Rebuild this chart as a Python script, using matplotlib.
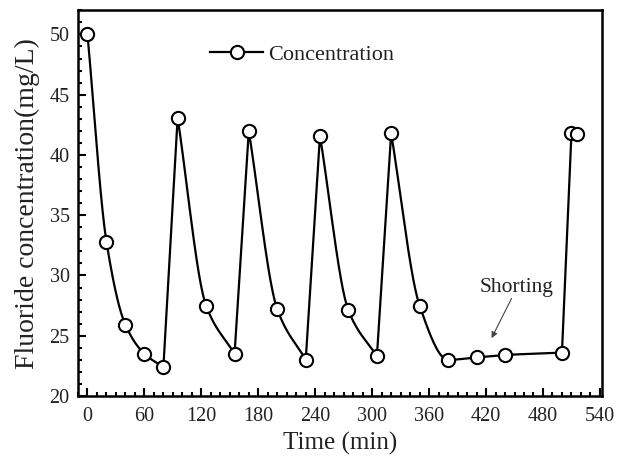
import numpy as np
import matplotlib
matplotlib.use("Agg")
import matplotlib.pyplot as plt
from matplotlib.ticker import MultipleLocator

time_min = [0, 20, 40, 60, 80, 95, 125, 155, 170, 200, 230, 245, 275, 305,
            320, 350, 380, 410, 440, 500, 510, 516]
conc = [50.0, 32.8, 25.9, 23.5, 22.4, 43.1, 27.5, 23.5, 42.0, 27.2, 23.0, 41.6,
        27.1, 23.3, 41.8, 27.5, 23.0, 23.2, 23.4, 23.6, 41.8, 41.7]
x_ticks = [0, 60, 120, 180, 240, 300, 360, 420, 480, 540]
y_ticks = [20, 25, 30, 35, 40, 45, 50]

plt.rcParams['font.family'] = ['Liberation Serif', 'DejaVu Serif']


def pchip(x, y, xs):
    x = np.asarray(x, float); y = np.asarray(y, float)
    h = np.diff(x); d = np.diff(y) / h
    n = len(x)
    m = np.zeros(n)
    for k in range(1, n - 1):
        if d[k - 1] * d[k] > 0:
            w1 = 2 * h[k] + h[k - 1]; w2 = h[k] + 2 * h[k - 1]
            m[k] = (w1 + w2) / (w1 / d[k - 1] + w2 / d[k])
    m[0] = d[0]; m[-1] = d[-1]
    out = np.empty_like(xs)
    for i, xv in enumerate(xs):
        k = min(max(np.searchsorted(x, xv) - 1, 0), n - 2)
        t = (xv - x[k]) / h[k]
        h00 = 2*t**3 - 3*t**2 + 1; h10 = t**3 - 2*t**2 + t
        h01 = -2*t**3 + 3*t**2; h11 = t**3 - t**2
        out[i] = h00*y[k] + h10*h[k]*m[k] + h01*y[k+1] + h11*h[k]*m[k+1]
    return out


fig = plt.figure(figsize=(6.17, 4.63), dpi=100)
ax = fig.add_axes([0.1264, 0.1447, 0.849, 0.833])

# smooth decay segments, straight rises
t = np.array(time_min, float); c = np.array(conc, float)
peaks = [0] + [i for i in range(1, len(c) - 1) if c[i] > c[i-1] and c[i] > c[i+1]]
troughs = [4, 7, 10, 13, 19]
segs_x, segs_y = [], []
for p, tr in zip(peaks, troughs):
    xs = np.linspace(t[p], t[tr], 200)
    ys = pchip(t[p:tr+1], c[p:tr+1], xs) if tr - p > 1 else np.interp(xs, t[p:tr+1], c[p:tr+1])
    segs_x.append(xs); segs_y.append(ys)
    nxt = tr + 1
    if nxt < len(t):
        segs_x.append(np.array([t[tr], t[nxt]])); segs_y.append(np.array([c[tr], c[nxt]]))
segs_x.append(np.array([t[-2], t[-1]])); segs_y.append(np.array([c[-2], c[-1]]))
ax.plot(np.concatenate(segs_x), np.concatenate(segs_y), color='black', lw=1.6, zorder=2)
ax.plot(time_min, conc, linestyle='none', marker='o', ms=9.5, mfc='white',
        mec='black', mew=1.5, zorder=3)
ax.plot([], [], color='black', lw=1.6, marker='o', ms=9.5, mfc='white',
        mec='black', mew=1.5, label='Concentration')
ax.legend(loc='center left', bbox_to_anchor=(0.252, 0.886), frameon=False,
          fontsize=16, handlelength=2.4, handletextpad=0.2, borderpad=0,
          borderaxespad=0, labelcolor='#222222')

ax.text(452.5, 29.04, 'Shorting', fontsize=15.5, ha='center', va='center',
        color='#222222')
ax.annotate('', xy=(425.8, 24.8), xytext=(446.9, 28.1),
            arrowprops=dict(arrowstyle='-|>', color='#444444', lw=0.8,
                            shrinkA=0, shrinkB=0, mutation_scale=9))

ax.set_xlim(-10, 542)
ax.set_ylim(20, 52)
ax.set_xticks(x_ticks)
ax.set_yticks(y_ticks)
ax.xaxis.set_minor_locator(MultipleLocator(10))
ax.yaxis.set_minor_locator(MultipleLocator(1))
ax.tick_params(which='both', direction='in', top=False, right=False, labelsize=14.5,
               width=1.5, pad=6, labelcolor='#222222')
ax.tick_params(axis='x', which='both', pad=8)
ax.tick_params(which='major', length=6)
ax.tick_params(which='minor', length=3)
for s in ax.spines.values():
    s.set_linewidth(1.8)
ax.set_xlabel('Time (min)', fontsize=18, labelpad=4, color='#222222')
ax.set_ylabel('Fluoride concentration(mg/L)', fontsize=20, labelpad=7, color='#222222')

fig.savefig('out.png', dpi=100)
